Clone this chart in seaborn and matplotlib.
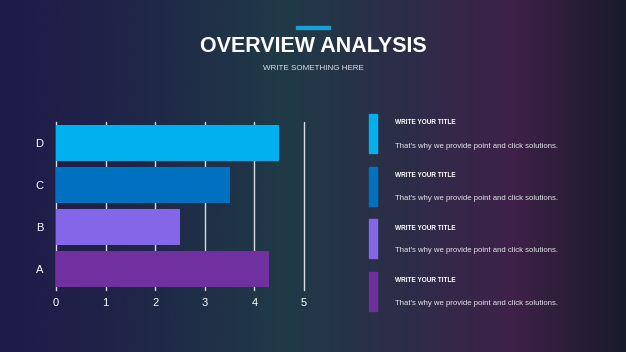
import numpy as np
import pandas as pd
import matplotlib
matplotlib.use("Agg")
import matplotlib.pyplot as plt
import seaborn as sns
from matplotlib.colors import LinearSegmentedColormap
from matplotlib.patches import Rectangle

# data
categories = ["D", "C", "B", "A"]
values = [4.5, 3.5, 2.5, 4.3]
bar_colors = ["#00b0ef", "#0070c0", "#8466e8", "#7030a0"]
x_ticks = [0, 1, 2, 3, 4, 5]

title = "OVERVIEW ANALYSIS"
subtitle = "WRITE SOMETHING HERE"
item_titles = ["WRITE YOUR TITLE"] * 4
item_texts = ["That's why we provide point and click solutions."] * 4

sns.set_theme(style="white")
plt.rcParams["font.family"] = ["Liberation Sans", "DejaVu Sans"]

fig = plt.figure(figsize=(6.26, 3.52), dpi=100)

# gradient background
bg = fig.add_axes([0, 0, 1, 1])
bg_cmap = LinearSegmentedColormap.from_list("bg", [
    (0.0, "#1f1a4a"), (0.2, "#1f2548"), (0.45, "#1f3a47"),
    (0.65, "#2d2d48"), (0.82, "#3e2148"), (1.0, "#191b2a")])
bg.imshow(np.linspace(0, 1, 256)[None, :], aspect="auto", cmap=bg_cmap,
          extent=[0, 1, 0, 1])
bg.set_axis_off()

# bar chart
df = pd.DataFrame({"cat": categories, "val": values})
ax = fig.add_axes([56 / 626, 1 - 290 / 352, 248 / 626, 168 / 352])
ax.set_facecolor("none")
sns.barplot(data=df, y="cat", x="val", hue="cat", palette=bar_colors,
            order=categories, width=0.84, saturation=1, linewidth=0,
            legend=False, ax=ax, zorder=3)
ax.set_xlim(0, 5)
ax.set_xticks(x_ticks)
for t in x_ticks[1:]:
    ax.axvline(t, color="#d8dce6", lw=1.0, zorder=1, clip_on=False)
for s in ["top", "right", "bottom"]:
    ax.spines[s].set_visible(False)
ax.spines["left"].set_color("#d8dce6")
ax.spines["left"].set_linewidth(1.0)
ax.set_xlabel("")
ax.set_ylabel("")
ax.tick_params(colors="white", labelsize=8, length=0, pad=6)
for lab in ax.get_xticklabels() + ax.get_yticklabels():
    lab.set_color("white")
ax.tick_params(axis="y", pad=9)

# header
fig.patches.append(Rectangle((296 / 626, 1 - 29 / 352), 34 / 626, 3 / 352,
                             transform=fig.transFigure, color="#1aa0d8"))
fig.text(0.5, 1 - 46 / 352, title, ha="center", va="center", color="white",
         fontsize=15.5, fontweight="bold")
fig.text(0.5, 1 - 68 / 352, subtitle, ha="center", va="center",
         color="#e0e0ea", fontsize=5.8)

# side notes
for i in range(4):
    top = 114 + i * 52.5
    fig.patches.append(Rectangle((369 / 626, 1 - (top + 39) / 352), 8 / 626,
                                 39 / 352, transform=fig.transFigure,
                                 color=bar_colors[i]))
    fig.text(395 / 626, 1 - (top + 9) / 352, item_titles[i], ha="left",
             va="center", color="white", fontsize=4.7, fontweight="bold")
    fig.text(395 / 626, 1 - (top + 32) / 352, item_texts[i], ha="left",
             va="center", color="#e6e6ee", fontsize=5.6)

fig.savefig("out.png", dpi=100)
